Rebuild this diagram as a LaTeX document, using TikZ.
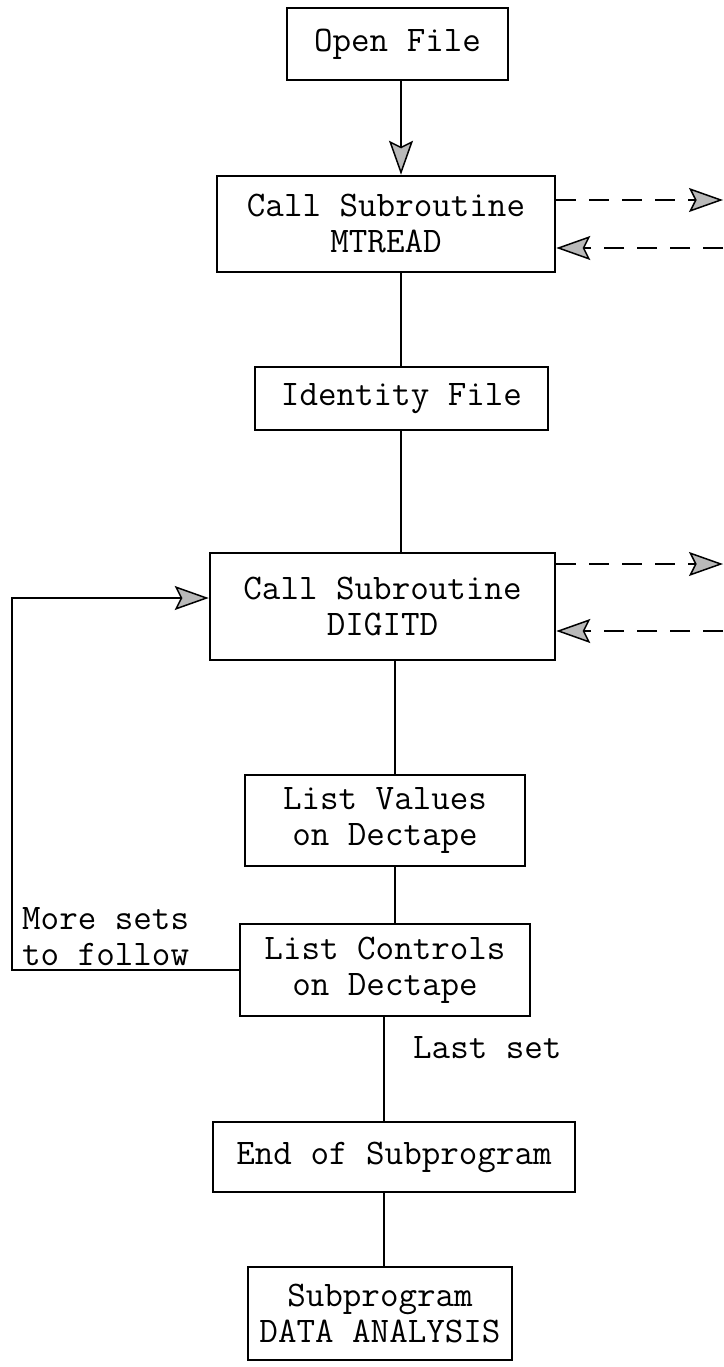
\documentclass[tikz,border=0pt]{standalone}
\usetikzlibrary{arrows.meta}
\begin{document}
\begin{tikzpicture}[x=1pt,y=-1pt,
  tx/.style={font=\fontsize{36}{36}\selectfont\ttfamily},
  box/.style={draw, line width=2.6pt, rectangle, inner sep=0pt, align=center, tx},
  flow/.style={line width=2pt},
  head/.style={-{Stealth[length=34pt,width=24pt,inset=6pt,fill=gray!55,line width=1.5pt]}},
  flowarrow/.style={flow, head},
  dasharrow/.style={line width=2.8pt, dash pattern=on 20pt off 13pt, head},
  lbl/.style={tx, inner sep=0pt, align=left}]
\useasboundingbox (0,0) rectangle (723,1367);

% process boxes
\node[box, minimum width=221pt, minimum height=72pt] (open) at (397.5,44) {Open File};
\node[box, minimum width=338pt, minimum height=96pt] (mtread) at (386,224) {Call Subroutine\\MTREAD};
\node[box, minimum width=293pt, minimum height=63pt] (ident) at (401.5,398.5) {Identity File};
\node[box, minimum width=345pt, minimum height=107pt] (digitd) at (382.5,606.5) {Call Subroutine\\DIGITD};
\node[box, minimum width=280pt, minimum height=91pt] (values) at (385,820.5) {List Values\\on Dectape};
\node[box, minimum width=290pt, minimum height=92pt] (controls) at (385,970) {List Controls\\on Dectape};
\node[box, minimum width=362pt, minimum height=70pt] (end) at (394,1157) {End of Subprogram};
\node[box, minimum width=264pt, minimum height=93pt] (sub) at (380,1313.5) {Subprogram\\DATA ANALYSIS};

% main flow
\coordinate (s1) at (401,0);
\coordinate (s2) at (395,0);
\coordinate (s3) at (384,0);
\draw[flowarrow] (open.south -| s1) -- (mtread.north -| s1);
\draw[flow] (mtread.south -| s1) -- (ident.north -| s1);
\draw[flow] (ident.south -| s1) -- (digitd.north -| s1);
\draw[flow] (digitd.south -| s2) -- (values.north -| s2);
\draw[flow] (values.south -| s2) -- (controls.north -| s2);
\draw[flow] (controls.south -| s3) -- (end.north -| s3);
\draw[flow] (end.south -| s3) -- (sub.north -| s3);

% calls to the subroutines and their returns
\coordinate (mOut) at (723,200);
\coordinate (mIn) at (723,248);
\coordinate (dOut) at (723,564);
\coordinate (dIn) at (723,631);
\draw[dasharrow] (mtread.east |- mOut) -- (mOut);
\draw[dasharrow] (mIn) -- (mtread.east |- mIn);
\draw[dasharrow] (digitd.east |- dOut) -- (dOut);
\draw[dasharrow] (dIn) -- (digitd.east |- dIn);

% loop back for further sets
\coordinate (loop) at (12,598);
\draw[flowarrow] (controls.west) -| (loop) -- (digitd.west |- loop);

% branch labels
\node[lbl, anchor=south west] (more) at (22,966) {More sets\\to follow};
\node[lbl, anchor=west] (last) at (413,1048) {Last set};
\end{tikzpicture}
\end{document}
